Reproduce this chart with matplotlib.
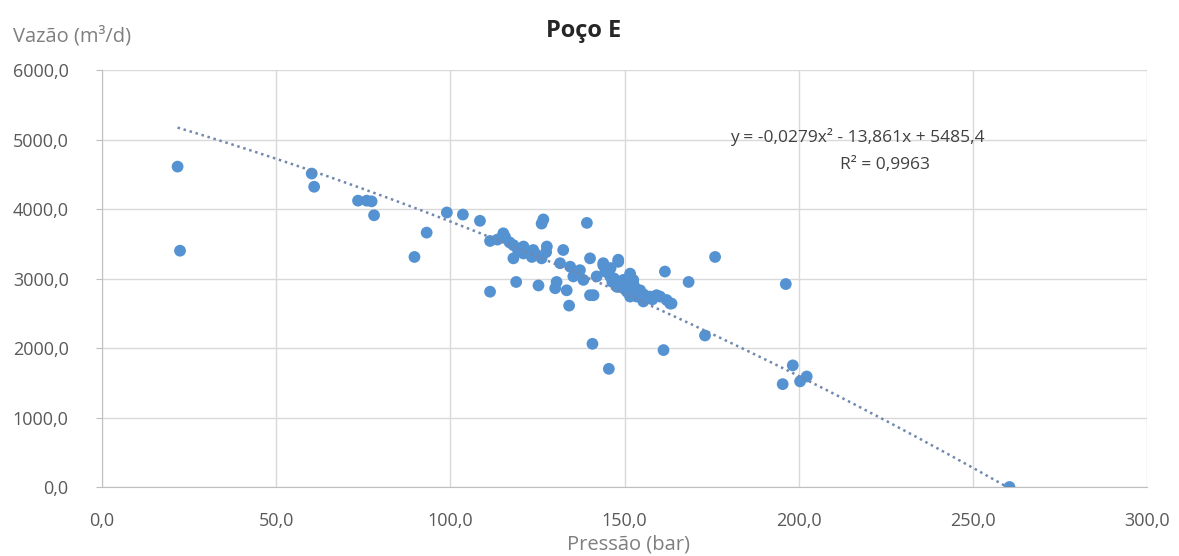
import matplotlib
matplotlib.use("Agg")
import matplotlib.pyplot as plt
import numpy as np
from matplotlib.ticker import FuncFormatter, MultipleLocator

# data
pressao = [
    21.7, 22.4, 60.2, 60.9, 73.5, 76.0, 77.4, 78.1, 89.7, 93.2,
    99.0, 103.6, 108.5, 111.4, 111.4, 113.5, 115.2, 115.7, 117.0, 118.1,
    118.1, 118.9, 119.5, 120.0, 121.0, 121.0, 122.5, 123.4, 123.8, 124.5,
    125.3, 126.2, 126.2, 126.7, 127.5, 127.7, 130.1, 130.5, 131.5, 132.4,
    133.4, 134.1, 134.4, 135.3, 137.2, 138.2, 139.2, 140.1, 140.1, 140.8,
    141.1, 142.0, 143.9, 143.9, 144.5, 145.5, 145.9, 146.0, 146.5, 147.0,
    147.8, 148.2, 148.2, 148.7, 149.0, 149.7, 150.0, 150.7, 151.0, 151.6,
    151.6, 152.5, 152.5, 153.0, 153.5, 154.5, 154.5, 155.4, 155.5, 156.4,
    157.3, 158.0, 159.2, 160.2, 161.2, 161.6, 162.1, 163.1, 163.5, 168.4,
    173.1, 176.0, 195.4, 196.3, 198.3, 200.4, 202.3, 260.5,
]
vazao = [
    4610, 3400, 4510, 4320, 4120, 4120, 4110, 3910, 3310, 3660,
    3950, 3920, 3830, 3540, 2810, 3560, 3650, 3600, 3520, 3480,
    3290, 2950, 3390, 3430, 3460, 3360, 3380, 3310, 3410, 3350,
    2900, 3290, 3790, 3850, 3380, 3460, 2860, 2950, 3220, 3410,
    2830, 2610, 3170, 3030, 3120, 2980, 3800, 3290, 2760, 2060,
    2760, 3030, 3220, 3190, 3100, 1700, 3030, 3150, 2950, 3000,
    2880, 3240, 3270, 2880, 2900, 2980, 2850, 2810, 2950, 3070,
    2740, 2930, 2980, 2870, 2740, 2830, 2790, 2670, 2770, 2740,
    2740, 2700, 2760, 2740, 1970, 3100, 2690, 2640, 2640, 2950,
    2180, 3310, 1480, 2920, 1750, 1520, 1590, 0,
]

# polynomial trendline shown on the chart
coef = [-0.0279, -13.861, 5485.4]
eq_text = "y = -0,0279x² - 13,861x + 5485,4"
r2_text = "R² = 0,9963"

blue = "#5592d2"
grey = "#595959"
plt.rcParams["font.family"] = ["Open Sans", "DejaVu Sans"]

fig = plt.figure(figsize=(11.79, 5.56), dpi=100)
ax = fig.add_axes([0.0865, 0.1241, 0.8864, 0.75])

ax.scatter(pressao, vazao, s=72, color=blue, edgecolors="none", zorder=3)
xt = np.linspace(min(pressao), max(pressao), 200)
ax.plot(xt, np.polyval(coef, xt), color="#7088ad", lw=1.8, ls=(0, (1, 1.5)),
        zorder=4)

ax.set_xlim(0, 300)
ax.set_ylim(0, 6000)
ax.xaxis.set_major_locator(MultipleLocator(50))
ax.yaxis.set_major_locator(MultipleLocator(1000))
fmt = FuncFormatter(lambda v, p: f"{v:.1f}".replace(".", ","))
ax.xaxis.set_major_formatter(fmt)
ax.yaxis.set_major_formatter(fmt)
ax.grid(True, color="#d9d9d9", lw=1)
ax.set_axisbelow(True)
for s in ["top", "right"]:
    ax.spines[s].set_visible(False)
ax.spines["left"].set_color("#bfbfbf")
ax.spines["bottom"].set_color("#bfbfbf")
ax.tick_params(axis="x", length=0, pad=18, labelsize=13, colors=grey)
ax.tick_params(axis="y", length=4, color="#bfbfbf", pad=20, labelsize=13,
               labelcolor=grey)

fig.text(0.619, 0.754, eq_text, ha="left", va="center", fontsize=12.5,
         color="#404040")
fig.text(0.751, 0.703, r2_text, ha="center", va="center", fontsize=12.5,
         color="#404040")

fig.text(0.495, 0.945, "Poço E", ha="center", va="center", fontsize=17,
         fontweight="bold", color="#262626")
fig.text(0.011, 0.935, "Vazão (m³/d)", ha="left", va="center", fontsize=14.5,
         color="#7f7f7f")
fig.text(0.533, 0.02, "Pressão (bar)", ha="center", va="center", fontsize=14.5,
         color="#7f7f7f")

fig.savefig("out.png", dpi=100)
